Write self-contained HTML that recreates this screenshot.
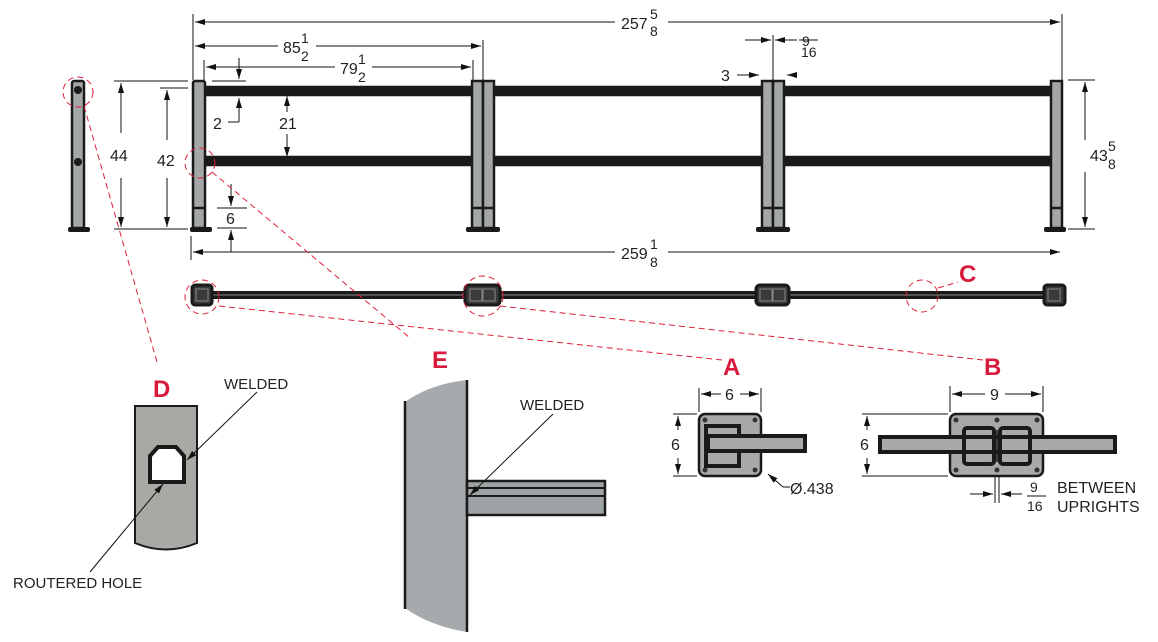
<!DOCTYPE html>
<html><head><meta charset="utf-8"><style>
html,body{margin:0;padding:0;background:#fff}
svg{display:block;font-family:"Liberation Sans",sans-serif}
</style></head><body>
<svg width="1158" height="642" viewBox="0 0 1158 642" xmlns="http://www.w3.org/2000/svg">
<defs>
<marker id="ar" markerWidth="10" markerHeight="6" refX="10" refY="3" orient="auto-start-reverse" markerUnits="userSpaceOnUse"><path d="M0,0 L10,3 L0,6 z" fill="#111"/></marker>
</defs>
<g fill="#222" font-size="16">
<g stroke="#111" stroke-width="1">
<line x1="193" y1="14" x2="193" y2="80"/><line x1="1062" y1="14" x2="1062" y2="80"/>
<line x1="195" y1="22" x2="615" y2="22" marker-start="url(#ar)"/><line x1="668" y1="22" x2="1060" y2="22" marker-end="url(#ar)"/>
<line x1="483" y1="40" x2="483" y2="80"/>
<line x1="195" y1="46" x2="278" y2="46" marker-start="url(#ar)"/><line x1="316" y1="46" x2="481" y2="46" marker-end="url(#ar)"/>
<line x1="204" y1="60" x2="204" y2="80"/><line x1="473" y1="60" x2="473" y2="80"/>
<line x1="206" y1="67" x2="335" y2="67" marker-start="url(#ar)"/><line x1="372" y1="67" x2="471" y2="67" marker-end="url(#ar)"/>
<line x1="239" y1="58" x2="239" y2="79" marker-end="url(#ar)"/>
<line x1="239" y1="122" x2="239" y2="98" marker-end="url(#ar)"/><line x1="228" y1="122" x2="239" y2="122"/>
<line x1="212" y1="81" x2="246" y2="81"/>
<line x1="287" y1="112" x2="287" y2="96" marker-end="url(#ar)"/><line x1="287" y1="134" x2="287" y2="157" marker-end="url(#ar)"/>
<line x1="773" y1="35" x2="773" y2="80"/><line x1="745" y1="40" x2="771" y2="40" marker-end="url(#ar)"/><line x1="797" y1="40" x2="775" y2="40" marker-end="url(#ar)"/>
<line x1="737" y1="75" x2="759" y2="75" marker-end="url(#ar)"/><line x1="797" y1="75" x2="787" y2="75" marker-end="url(#ar)"/>
<line x1="114" y1="81" x2="188" y2="81"/><line x1="114" y1="229" x2="188" y2="229"/>
<line x1="160" y1="88" x2="188" y2="88"/>
<line x1="121" y1="133" x2="121" y2="83" marker-end="url(#ar)"/><line x1="121" y1="178" x2="121" y2="227" marker-end="url(#ar)"/>
<line x1="167" y1="140" x2="167" y2="90" marker-end="url(#ar)"/><line x1="167" y1="178" x2="167" y2="227" marker-end="url(#ar)"/>
<line x1="217" y1="208" x2="247" y2="208"/><line x1="217" y1="228" x2="247" y2="228"/>
<line x1="231" y1="184" x2="231" y2="206" marker-end="url(#ar)"/><line x1="231" y1="252" x2="231" y2="230" marker-end="url(#ar)"/>
<line x1="1068" y1="80" x2="1095" y2="80"/><line x1="1068" y1="229" x2="1095" y2="229"/>
<line x1="1085" y1="140" x2="1085" y2="82" marker-end="url(#ar)"/><line x1="1085" y1="172" x2="1085" y2="227" marker-end="url(#ar)"/>
<line x1="191" y1="236" x2="191" y2="260"/>
<line x1="193" y1="252" x2="615" y2="252" marker-start="url(#ar)"/><line x1="668" y1="252" x2="1060" y2="252" marker-end="url(#ar)"/>
</g>
<text x="621" y="29">257</text><text x="650" y="19" font-size="14">5</text><text x="650" y="36" font-size="14">8</text>
<text x="283" y="53">85</text><text x="301" y="43" font-size="14">1</text><text x="301" y="61" font-size="14">2</text>
<text x="340" y="74">79</text><text x="358" y="64" font-size="14">1</text><text x="358" y="82" font-size="14">2</text>
<text x="802" y="46" font-size="14">9</text><line x1="799" y1="40" x2="818" y2="40" stroke="#111"/><text x="801" y="57" font-size="14">16</text>
<text x="721" y="81">3</text>
<text x="213" y="129">2</text><text x="279" y="129">21</text>
<text x="110" y="161">44</text><text x="157" y="166">42</text><text x="226" y="224">6</text>
<text x="1090" y="161">43</text><text x="1108" y="151" font-size="14">5</text><text x="1108" y="169" font-size="14">8</text>
<text x="621" y="259">259</text><text x="650" y="249" font-size="14">1</text><text x="650" y="267" font-size="14">8</text>
</g>

<g stroke="#1a1a1a" stroke-width="2.5">
<rect x="204" y="87" width="848" height="8" fill="#1a1a1a"/>
<rect x="204" y="157" width="848" height="8" fill="#1a1a1a"/>
<g fill="#a4a7a8">
<rect x="72" y="81" width="12" height="147" rx="2"/>
<rect x="193" y="81" width="12" height="147" rx="2"/>
<rect x="472" y="81" width="11" height="147"/><rect x="483" y="81" width="11" height="147"/>
<rect x="762" y="81" width="11" height="147"/><rect x="773" y="81" width="11" height="147"/>
<rect x="1051" y="81" width="11" height="147"/>
</g>
<line x1="193" y1="208" x2="205" y2="208"/><line x1="472" y1="208" x2="494" y2="208"/><line x1="762" y1="208" x2="784" y2="208"/><line x1="1051" y1="208" x2="1062" y2="208"/>
</g>
<g fill="#1a1a1a">
<rect x="68" y="227" width="22" height="5" rx="2"/><rect x="190" y="227" width="22" height="5" rx="2"/>
<rect x="466" y="227" width="34" height="5" rx="2"/><rect x="756" y="227" width="34" height="5" rx="2"/><rect x="1044" y="227" width="22" height="5" rx="2"/>
<circle cx="78" cy="90" r="4"/><circle cx="78" cy="162" r="4"/>
</g>

<rect x="200" y="291" width="855" height="8" fill="#1a1a1a"/>
<line x1="200" y1="295" x2="1055" y2="295" stroke="#888" stroke-width="1"/>
<g fill="#3a3a3a" stroke="#1a1a1a" stroke-width="3">
<rect x="192" y="285" width="20" height="20" rx="3"/>
<rect x="465" y="285" width="35" height="20" rx="4"/>
<rect x="756" y="285" width="33" height="20" rx="4"/>
<rect x="1044" y="285" width="21" height="20" rx="3"/>
</g>
<g fill="none" stroke="#888" stroke-width="1">
<rect x="196" y="289" width="12" height="12"/><rect x="470" y="289" width="12" height="12"/><rect x="483" y="289" width="12" height="12"/>
<rect x="760" y="289" width="12" height="12"/><rect x="773" y="289" width="12" height="12"/><rect x="1048" y="289" width="12" height="12"/>
</g>

<g fill="none" stroke="#e0203a" stroke-width="1" stroke-dasharray="6,4">
<circle cx="78" cy="92" r="15"/><circle cx="200" cy="163" r="15"/><circle cx="202" cy="297" r="17"/><circle cx="483" cy="296" r="20"/><circle cx="922" cy="296" r="16"/>
<line x1="84" y1="106" x2="157" y2="362"/>
<line x1="212" y1="172" x2="410" y2="338"/>
<line x1="219" y1="306" x2="722" y2="360"/>
<line x1="500" y1="306" x2="983" y2="360"/>
<line x1="938" y1="288" x2="958" y2="282"/>
</g>
<g fill="#d81b3c" font-weight="bold" font-size="24">
<text x="153" y="397">D</text><text x="432" y="368">E</text><text x="723" y="375">A</text><text x="984" y="375">B</text><text x="959" y="282">C</text>
</g>

<path d="M135,406 L197,406 L197,543 Q166,556 135,543 Z" fill="#a9a8a4" stroke="#1a1a1a" stroke-width="2"/>
<path d="M150,456 L158,447 L176,447 L184,456 L184,482 L150,482 Z" fill="#fff" stroke="#1a1a1a" stroke-width="4"/>
<g stroke="#111" stroke-width="1"><line x1="257" y1="392" x2="187" y2="460" marker-end="url(#ar)"/><line x1="90" y1="572" x2="163" y2="484" marker-end="url(#ar)"/></g>
<text x="224" y="389" font-size="15" fill="#222">WELDED</text>
<text x="13" y="588" font-size="15" fill="#222">ROUTERED HOLE</text>

<path d="M405,402 Q430,384 467,380 L467,632 Q430,626 405,608 Z" fill="#a6aaac"/>
<line x1="405" y1="401" x2="405" y2="609" stroke="#1a1a1a" stroke-width="2.5"/>
<line x1="467" y1="380" x2="467" y2="632" stroke="#1a1a1a" stroke-width="2.5"/>
<rect x="467" y="481" width="138" height="34" fill="#9ea3a5" stroke="#1a1a1a" stroke-width="2.5"/>
<line x1="467" y1="488" x2="605" y2="488" stroke="#1a1a1a" stroke-width="2"/><line x1="467" y1="496" x2="605" y2="496" stroke="#1a1a1a" stroke-width="2"/>
<line x1="553" y1="414" x2="470" y2="495" stroke="#111" marker-end="url(#ar)"/>
<text x="520" y="410" font-size="15" fill="#222">WELDED</text>

<g stroke="#111" stroke-width="1" fill="none">
<line x1="699" y1="388" x2="699" y2="412"/><line x1="761" y1="388" x2="761" y2="412"/>
<line x1="701" y1="394" x2="721" y2="394" marker-start="url(#ar)"/><line x1="740" y1="394" x2="759" y2="394" marker-end="url(#ar)"/>
<line x1="673" y1="414" x2="697" y2="414"/><line x1="673" y1="476" x2="697" y2="476"/>
<line x1="678" y1="430" x2="678" y2="416" marker-end="url(#ar)"/><line x1="678" y1="458" x2="678" y2="474" marker-end="url(#ar)"/>
<line x1="783" y1="487" x2="768" y2="474" marker-end="url(#ar)"/><line x1="783" y1="487" x2="790" y2="487"/>
</g>
<rect x="699" y="414" width="62" height="62" rx="6" fill="#a7a9aa" stroke="#1a1a1a" stroke-width="2.5"/>
<rect x="706" y="426" width="33" height="40" fill="none" stroke="#1a1a1a" stroke-width="4"/>
<rect x="708" y="436" width="97" height="15" fill="#a7a9aa" stroke="#1a1a1a" stroke-width="4"/>
<g fill="#333"><circle cx="705" cy="420" r="2.5"/><circle cx="755" cy="420" r="2.5"/><circle cx="705" cy="470" r="2.5"/><circle cx="755" cy="470" r="2.5"/></g>
<text x="725" y="400" font-size="16" fill="#222">6</text><text x="671" y="450" font-size="16" fill="#222">6</text>
<text x="790" y="494" font-size="16" fill="#222">Ø.438</text>

<g stroke="#111" stroke-width="1" fill="none">
<line x1="950" y1="386" x2="950" y2="412"/><line x1="1043" y1="386" x2="1043" y2="412"/>
<line x1="952" y1="394" x2="985" y2="394" marker-start="url(#ar)"/><line x1="1005" y1="394" x2="1041" y2="394" marker-end="url(#ar)"/>
<line x1="862" y1="414" x2="948" y2="414"/><line x1="862" y1="476" x2="948" y2="476"/>
<line x1="867" y1="430" x2="867" y2="416" marker-end="url(#ar)"/><line x1="867" y1="458" x2="867" y2="474" marker-end="url(#ar)"/>
<line x1="995" y1="470" x2="995" y2="503"/><line x1="999" y1="470" x2="999" y2="503"/>
<line x1="970" y1="494" x2="993" y2="494" marker-end="url(#ar)"/><line x1="1022" y1="494" x2="1001" y2="494" marker-end="url(#ar)"/>
</g>
<rect x="950" y="414" width="93" height="62" rx="6" fill="#a7a9aa" stroke="#1a1a1a" stroke-width="2.5"/>
<rect x="880" y="437" width="235" height="15" fill="#a7a9aa" stroke="#1a1a1a" stroke-width="4"/>
<rect x="964" y="428" width="30" height="36" rx="3" fill="none" stroke="#1a1a1a" stroke-width="4"/>
<rect x="1000" y="428" width="30" height="36" rx="3" fill="none" stroke="#1a1a1a" stroke-width="4"/>
<line x1="997" y1="430" x2="997" y2="462" stroke="#1a1a1a" stroke-width="1.5"/>
<g fill="#333"><circle cx="956" cy="420" r="2.5"/><circle cx="997" cy="420" r="2.5"/><circle cx="1037" cy="420" r="2.5"/><circle cx="956" cy="470" r="2.5"/><circle cx="997" cy="470" r="2.5"/><circle cx="1037" cy="470" r="2.5"/></g>
<g font-size="16" fill="#222">
<text x="990" y="400">9</text><text x="860" y="450">6</text>
<text x="1030" y="492" font-size="14">9</text><line x1="1027" y1="496" x2="1046" y2="496" stroke="#111"/><text x="1027" y="511" font-size="14">16</text>
<text x="1057" y="493">BETWEEN</text><text x="1057" y="512">UPRIGHTS</text>
</g>
</svg>
</body></html>
